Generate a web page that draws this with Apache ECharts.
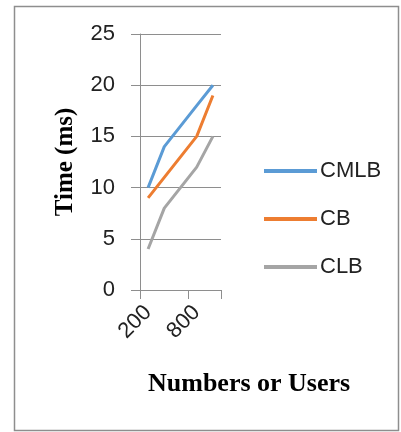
<!DOCTYPE html>
<html>
<head>
<meta charset="utf-8">
<script src="https://cdn.jsdelivr.net/npm/echarts@6/dist/echarts.min.js"></script>
<style>
  html, body { margin: 0; padding: 0; background: #fff; }
  #chart { width: 401px; height: 432px; }
</style>
</head>
<body>
<div id="chart"></div>
<script>
// Number of users on the x axis, response time (ms) per scheme
const users = ['200', '400', '600', '800', '1000'];
const cmlb = [10, 14, 16, 18, 20];
const cb = [9, 11, 13, 15, 19];
const clb = [4, 8, 10, 12, 15];
const yTicks = [0, 5, 10, 15, 20, 25];

const axisGray = '#8e8e8e';
const sans = '"Liberation Sans", Arial, sans-serif';
const serif = '"Liberation Serif", "Times New Roman", serif';

const chart = echarts.init(document.getElementById('chart'), null, { renderer: 'canvas' });

function line(name, data, color) {
  return {
    name: name,
    type: 'line',
    data: data,
    symbol: 'none',
    lineStyle: { color: color, width: 3 },
    itemStyle: { color: color }
  };
}

chart.setOption({
  animation: false,
  backgroundColor: '#fff',
  graphic: [{
    type: 'rect',
    shape: { x: 14.5, y: 6.5, width: 384, height: 424 },
    style: { fill: 'none', stroke: axisGray, lineWidth: 1.5 },
    silent: true
  }],
  title: {
    text: 'Numbers or Users',
    left: 148,
    top: 371,
    padding: 0,
    textStyle: { fontFamily: serif, fontWeight: 'bold', fontSize: 26, color: '#000' }
  },
  legend: {
    orient: 'vertical',
    left: 264,
    top: 160,
    padding: 0,
    itemWidth: 53,
    itemHeight: 4,
    itemGap: 26,
    icon: 'rect',
    data: ['CMLB', 'CB', 'CLB'],
    textStyle: { fontFamily: sans, fontSize: 22, color: '#222', padding: [0, 0, 0, -2] }
  },
  grid: { left: 140, right: 180, top: 34, bottom: 142, containLabel: false },
  xAxis: {
    type: 'category',
    data: users,
    boundaryGap: true,
    axisLine: { lineStyle: { color: axisGray, width: 1 } },
    axisTick: { show: true, length: 9, lineStyle: { color: axisGray } },
    axisLabel: {
      interval: 2,
      rotate: 45,
      margin: 19,
      fontFamily: sans,
      fontSize: 22,
      color: '#222'
    }
  },
  yAxis: {
    type: 'value',
    min: yTicks[0],
    max: yTicks[yTicks.length - 1],
    interval: 5,
    name: 'Time (ms)',
    nameLocation: 'middle',
    nameGap: 62,
    nameTextStyle: { fontFamily: serif, fontWeight: 'bold', fontSize: 25, color: '#000' },
    axisLine: { show: true, lineStyle: { color: axisGray, width: 1 } },
    axisTick: { show: true, length: 9, lineStyle: { color: axisGray } },
    splitLine: { lineStyle: { color: axisGray, width: 1 } },
    axisLabel: { margin: 25, fontFamily: sans, fontSize: 22, color: '#222' }
  },
  series: [
    line('CMLB', cmlb, '#5b9bd5'),
    line('CB', cb, '#ed7d31'),
    line('CLB', clb, '#a5a5a5')
  ]
});
</script>
</body>
</html>
